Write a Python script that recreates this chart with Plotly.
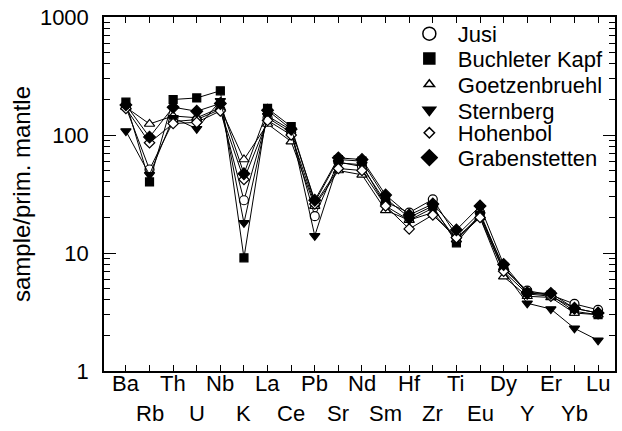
import plotly.graph_objects as go

elements = ["Ba", "Rb", "Th", "U", "Nb", "K", "La", "Ce", "Pb", "Sr", "Nd",
            "Sm", "Hf", "Zr", "Ti", "Eu", "Dy", "Y", "Er", "Yb", "Lu"]

jusi = [172, 51, 130, 135, 165, 28, 140, 105, 20.5, 59, 54, 27, 22, 28.5, 14, 22, 7.3, 4.8, 4.4, 3.7, 3.3]
buchleter = [190, 40, 200, 206, 237, 9.1, 168, 118, 27, 62, 60, 29, 20, 25, 12.2, 21, 7.6, 4.6, 4.4, 3.2, 3.0]
goetzen = [172, 124, 145, 140, 170, 62, 124, 88, 25, 50, 46, 23, 19, 22, 13, 20, 6.3, 4.3, 4.2, 3.1, 3.0]
sternberg = [108, 46, 140, 113, 195, 18, 145, 110, 14, 58, 56, 25, 19, 24, 13, 21, 7.0, 3.75, 3.35, 2.3, 1.82]
hohenbol = [168, 86, 125, 128, 160, 42, 133, 100, 26, 52, 50, 25, 16, 21, 13.5, 20, 7.0, 4.5, 4.3, 3.4, 3.1]
graben = [180, 96, 172, 159, 185, 47, 162, 112, 28, 64, 62, 31, 21, 26, 15.7, 25, 8.0, 4.6, 4.55, 3.4, 3.1]

names = ["Jusi", "Buchleter Kapf", "Goetzenbruehl", "Sternberg", "Hohenbol", "Grabenstetten"]
series = [jusi, buchleter, goetzen, sternberg, hohenbol, graben]
symbols = ["circle-open", "square", "triangle-up-open", "triangle-down", "diamond-open", "diamond"]
data_sizes = [9, 8, 9, 9, 8, 9]
legend_sizes = [13, 11, 9, 11, 8, 12]
fills = ["white", "black", "white", "black", "white", "black"]
legend_rows = [31, 56, 82, 108, 131, 156]

FONT = "Liberation Sans, Arial, Helvetica, sans-serif"
W, H = 622, 431
L, R, T, B = 104, 5, 14, 60
PH = H - T - B
PW = W - L - R

xs = list(range(len(elements)))
fig = go.Figure()

for i, (nm, vals) in enumerate(zip(names, series)):
    sym = symbols[i].replace("-open", "")
    fig.add_trace(go.Scatter(
        x=xs, y=vals, mode="lines+markers", name=nm, showlegend=False,
        line=dict(color="black", width=1),
        marker=dict(symbol=sym, size=data_sizes[i], color=fills[i],
                    line=dict(color="black", width=1.2)),
    ))

for i, nm in enumerate(names):
    sym = symbols[i].replace("-open", "")
    lg = "legend" if i == 0 else f"legend{i+1}"
    fig.add_trace(go.Scatter(
        x=[None], y=[None], mode="markers", name=nm, showlegend=True, legend=lg,
        marker=dict(symbol=sym, size=legend_sizes[i], color=fills[i],
                    line=dict(color="black", width=1.5)),
    ))

legend_common = dict(font=dict(family=FONT, size=22, color="black"),
                     bgcolor="rgba(0,0,0,0)", borderwidth=0, itemwidth=47,
                     xanchor="left", yanchor="middle", itemsizing="trace")
layout_legends = {}
for i, py in enumerate(legend_rows):
    key = "legend" if i == 0 else f"legend{i+1}"
    layout_legends[key] = dict(legend_common, x=(402 - L) / PW, y=(H - B - py) / PH)

annotations = []
for i, el in enumerate(elements):
    py = 384 if i % 2 == 0 else 414
    annotations.append(dict(x=i, y=(H - B - py) / PH, xref="x", yref="paper",
                            text=el, showarrow=False, yanchor="middle", xanchor="center",
                            font=dict(family=FONT, size=22, color="black")))

fig.update_layout(
    width=W, height=H,
    margin=dict(l=L, r=R, t=T, b=B),
    paper_bgcolor="white", plot_bgcolor="white",
    font=dict(family=FONT, size=22, color="black"),
    annotations=annotations,
    **layout_legends,
)

x0 = -(126 - L) / ((600 - 126) / 20)
x1 = 20 + (L + PW - 600) / ((600 - 126) / 20)
fig.update_xaxes(range=[x0, x1], tickvals=xs, showticklabels=False,
                 ticks="inside", ticklen=6, tickwidth=1.2, tickcolor="black",
                 showline=True, linecolor="black", linewidth=1.5, mirror="allticks",
                 showgrid=False, zeroline=False)
fig.update_yaxes(type="log", range=[0, 3], tickvals=[1, 10, 100, 1000],
                 ticktext=["1", "10", "100", "1000"],
                 ticks="inside", ticklen=12, tickwidth=1.2, tickcolor="black",
                 minor=dict(ticks="inside", ticklen=6, tickwidth=1, tickcolor="black",
                            tickvals=[m * 10 ** d for d in range(3) for m in range(2, 10)],
                            showgrid=False),
                 showline=True, linecolor="black", linewidth=1.5, mirror="allticks",
                 showgrid=False, zeroline=False,
                 tickfont=dict(family=FONT, size=22, color="black"),
                 ticklabelstandoff=9,
                 title=dict(text="sample/prim. mantle", standoff=2,
                            font=dict(family=FONT, size=24, color="black")))

fig.write_html("out.html")
